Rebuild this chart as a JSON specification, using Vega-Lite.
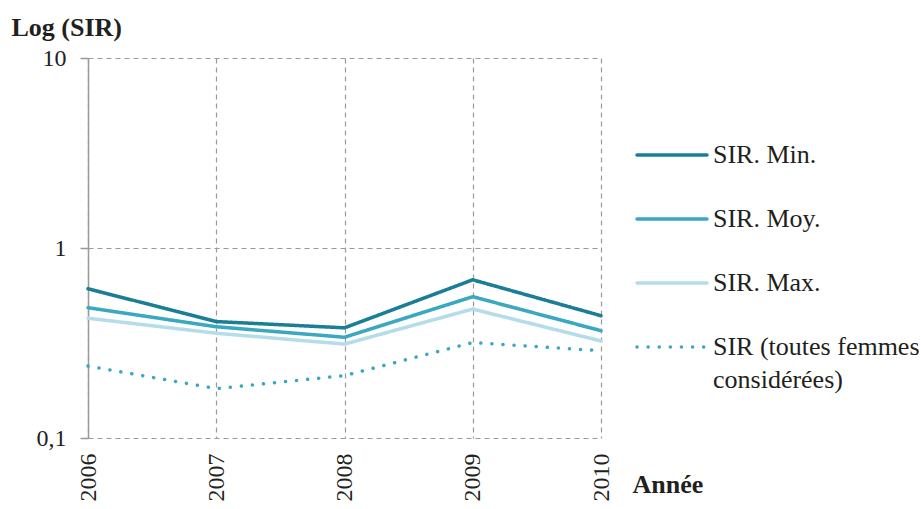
{
  "$schema": "https://vega.github.io/schema/vega-lite/v6.json",
  "width": 513,
  "height": 380,
  "autosize": {"type": "none"},
  "padding": {"left": 88, "top": 58, "right": 320, "bottom": 71},
  "background": "white",
  "config": {
    "view": {"stroke": null},
    "font": "Liberation Serif, Times New Roman, serif"
  },
  "data": {
    "values": [
      {"annee": "2006", "serie": "SIR. Min.", "sir": 0.61},
      {"annee": "2007", "serie": "SIR. Min.", "sir": 0.41},
      {"annee": "2008", "serie": "SIR. Min.", "sir": 0.38},
      {"annee": "2009", "serie": "SIR. Min.", "sir": 0.68},
      {"annee": "2010", "serie": "SIR. Min.", "sir": 0.44},
      {"annee": "2006", "serie": "SIR. Moy.", "sir": 0.485},
      {"annee": "2007", "serie": "SIR. Moy.", "sir": 0.385},
      {"annee": "2008", "serie": "SIR. Moy.", "sir": 0.339},
      {"annee": "2009", "serie": "SIR. Moy.", "sir": 0.554},
      {"annee": "2010", "serie": "SIR. Moy.", "sir": 0.367},
      {"annee": "2006", "serie": "SIR. Max.", "sir": 0.427},
      {"annee": "2007", "serie": "SIR. Max.", "sir": 0.356},
      {"annee": "2008", "serie": "SIR. Max.", "sir": 0.312},
      {"annee": "2009", "serie": "SIR. Max.", "sir": 0.477},
      {"annee": "2010", "serie": "SIR. Max.", "sir": 0.324},
      {"annee": "2006", "serie": "SIR (toutes femmes considérées)", "sir": 0.239},
      {"annee": "2007", "serie": "SIR (toutes femmes considérées)", "sir": 0.182},
      {"annee": "2008", "serie": "SIR (toutes femmes considérées)", "sir": 0.213},
      {"annee": "2009", "serie": "SIR (toutes femmes considérées)", "sir": 0.318},
      {"annee": "2010", "serie": "SIR (toutes femmes considérées)", "sir": 0.288}
    ]
  },
  "mark": {"type": "line", "strokeWidth": 3.5, "strokeCap": "round"},
  "encoding": {
    "x": {
      "field": "annee",
      "type": "ordinal",
      "scale": {"type": "point", "padding": 0},
      "axis": {
        "title": "Année",
        "titleFont": "Liberation Serif, Times New Roman, serif",
        "titleFontSize": 26,
        "titleFontWeight": "bold",
        "titleColor": "#231f20",
        "titleAngle": 0,
        "titleAlign": "left",
        "titleBaseline": "middle",
        "titleX": 544,
        "titleY": 46,
        "labelAngle": -90,
        "labelAlign": "right",
        "labelBaseline": "middle",
        "labelFont": "Liberation Serif, Times New Roman, serif",
        "labelFontSize": 24,
        "labelColor": "#231f20",
        "labelPadding": 15,
        "ticks": false,
        "domain": false,
        "grid": true,
        "gridColor": "#9a9a9a",
        "gridDash": [5, 4],
        "gridWidth": 1.2
      }
    },
    "y": {
      "field": "sir",
      "type": "quantitative",
      "scale": {"type": "log", "domain": [0.1, 10]},
      "axis": {
        "title": "Log (SIR)",
        "titleFont": "Liberation Serif, Times New Roman, serif",
        "titleFontSize": 26,
        "titleFontWeight": "bold",
        "titleColor": "#231f20",
        "titleAngle": 0,
        "titleAlign": "left",
        "titleBaseline": "middle",
        "titleX": -77,
        "titleY": -31,
        "values": [0.1, 1, 10],
        "labelExpr": "datum.value < 0.5 ? '0,1' : datum.label",
        "labelFont": "Liberation Serif, Times New Roman, serif",
        "labelFontSize": 24,
        "labelColor": "#231f20",
        "labelPadding": 14,
        "tickSize": 8,
        "tickColor": "#9a9a9a",
        "tickWidth": 1.5,
        "domainColor": "#9a9a9a",
        "domainWidth": 1.5,
        "grid": true,
        "gridColor": "#9a9a9a",
        "gridDash": [5, 4],
        "gridWidth": 1.2
      }
    },
    "color": {
      "field": "serie",
      "type": "nominal",
      "sort": ["SIR. Min.", "SIR. Moy.", "SIR. Max.", "SIR (toutes femmes considérées)"],
      "scale": {
        "domain": ["SIR. Min.", "SIR. Moy.", "SIR. Max.", "SIR (toutes femmes considérées)"],
        "range": ["#1a7f96", "#3aa8c1", "#b5dde9", "#3aa8c1"]
      },
      "legend": {
        "title": null,
        "orient": "none",
        "legendX": 547,
        "legendY": 60,
        "symbolType": "stroke",
        "symbolSize": 4900,
        "symbolStrokeWidth": 3.5,
        "labelFont": "Liberation Serif, Times New Roman, serif",
        "labelFontSize": 26,
        "labelColor": "#231f20",
        "labelOffset": 4,
        "labelLimit": 300,
        "rowPadding": 14,
        "labelExpr": "indexof(datum.label, 'toutes') > 0 ? ['SIR (toutes femmes', 'considérées)'] : datum.label",
        "encode": {
          "symbols": {"update": {"strokeCap": {"value": "round"}, "strokeWidth": {"value": 4}}},
          "labels": {"update": {"lineHeight": {"value": 33}}}
        }
      }
    },
    "strokeDash": {
      "field": "serie",
      "type": "nominal",
      "sort": ["SIR. Min.", "SIR. Moy.", "SIR. Max.", "SIR (toutes femmes considérées)"],
      "scale": {
        "domain": ["SIR. Min.", "SIR. Moy.", "SIR. Max.", "SIR (toutes femmes considérées)"],
        "range": [[1, 0], [1, 0], [1, 0], [0.1, 11]]
      },
      "legend": {
        "title": null,
        "orient": "none",
        "legendX": 547,
        "legendY": 60,
        "symbolType": "stroke",
        "symbolSize": 4900,
        "symbolStrokeWidth": 3.5,
        "labelFont": "Liberation Serif, Times New Roman, serif",
        "labelFontSize": 26,
        "labelColor": "#231f20",
        "labelOffset": 4,
        "labelLimit": 300,
        "rowPadding": 14,
        "labelExpr": "indexof(datum.label, 'toutes') > 0 ? ['SIR (toutes femmes', 'considérées)'] : datum.label",
        "encode": {
          "symbols": {"update": {"strokeCap": {"value": "round"}, "strokeWidth": {"value": 4}}},
          "labels": {"update": {"lineHeight": {"value": 33}}}
        }
      }
    },
    "strokeWidth": {
      "field": "serie",
      "type": "nominal",
      "scale": {
        "domain": ["SIR. Min.", "SIR. Moy.", "SIR. Max.", "SIR (toutes femmes considérées)"],
        "range": [3.5, 3.5, 3.5, 4.5]
      },
      "legend": null
    }
  }
}
